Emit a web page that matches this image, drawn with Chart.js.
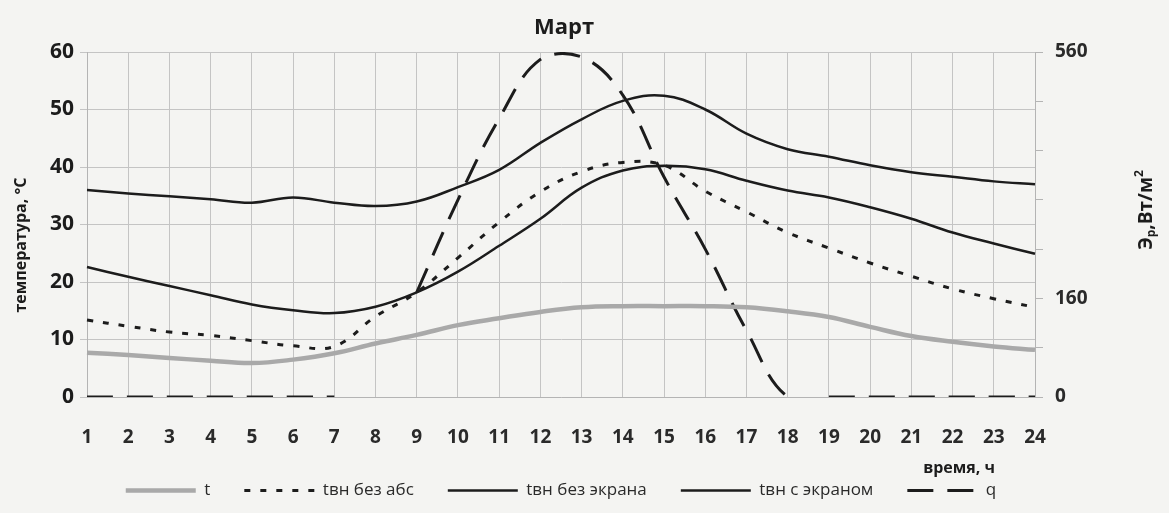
<!DOCTYPE html>
<html>
<head>
<meta charset="utf-8">
<script src="https://cdn.jsdelivr.net/npm/chart.js@4.4.1/dist/chart.umd.min.js"></script>
<style>
    html, body { margin: 0; padding: 0; background: #f4f4f2; }
</style>
</head>
<body>
<canvas id="chart" width="1169" height="513"></canvas>
<script>
"use strict"

// hours of the day
const hours = ['1', '2', '3', '4', '5', '6', '7', '8', '9', '10', '11', '12',
               '13', '14', '15', '16', '17', '18', '19', '20', '21', '22', '23', '24'];

// temperatures, °C (left axis)
const tOutside  = [7.7, 7.3, 6.8, 6.3, 5.9, 6.5, 7.6, 9.3, 10.8, 12.5, 13.7, 14.8,
                   15.6, 15.8, 15.8, 15.8, 15.6, 14.9, 13.9, 12.2, 10.6, 9.6, 8.8, 8.2];
const tNoAbs    = [13.4, 12.3, 11.3, 10.7, 9.8, 8.9, 8.8, 14.0, 18.2, 24.2, 30.4, 35.7,
                   39.2, 40.8, 40.3, 35.8, 32.2, 28.6, 25.9, 23.3, 21.0, 18.8, 17.1, 15.6];
const tNoScreen = [36.0, 35.4, 34.9, 34.4, 33.8, 34.7, 33.8, 33.2, 34.0, 36.5, 39.5, 44.2,
                   48.3, 51.5, 52.4, 50.0, 45.8, 43.1, 41.8, 40.3, 39.1, 38.3, 37.5, 37.0];
const tScreen   = [22.6, 20.9, 19.3, 17.7, 16.1, 15.1, 14.6, 15.7, 18.2, 21.8, 26.3, 31.0,
                   36.4, 39.4, 40.2, 39.6, 37.6, 35.9, 34.7, 33.0, 31.0, 28.6, 26.7, 24.9];

// solar radiation, W/m² (right axis)
const qRadiation = [0, 0, 0, 0, 0, 0, 0, null, 170, 320, 452, 548,
                    552, 490, 357, 240, 108, 0, 0, 0, 0, 0, 0, 0];

const seriesNames = ['t', 'tвн без абс', 'tвн без экрана', 'tвн с экраном', 'q'];
const rightTickLabels = [0, 160, 560];

const chartTitle = 'Март';
const leftTitle = 'температура, °С';
const bottomTitle = 'время, ч';


const app = {
    canvasContext: document.getElementById('chart').getContext('2d')
};


window.onload = () =>
{
    drawChart();
}


const extraText =
{
    id: 'extraText',
    afterDraw(chart)
    {
        const ctx = chart.ctx;
        const area = chart.chartArea;
        ctx.save();
        ctx.fillStyle = '#1c1c1c';
        ctx.textBaseline = 'middle';

        // title
        ctx.font = 'bold 22px "Open Sans"';
        ctx.textAlign = 'center';
        ctx.fillText(chartTitle, (area.left + area.right) / 2 + 3, area.top - 24);

        // x axis title, right side
        ctx.font = 'bold 16px "Open Sans"';
        ctx.textAlign = 'right';
        ctx.fillText(bottomTitle, area.right - 40, area.bottom + 71);

        // left axis title
        ctx.save();
        ctx.translate(21, 245);
        ctx.rotate(-Math.PI / 2);
        ctx.font = 'bold 16px "Open Sans"';
        ctx.textAlign = 'center';
        ctx.fillText(leftTitle, 0, 0);
        ctx.restore();

        // right axis title Эр,Вт/м²
        ctx.save();
        ctx.translate(1147, 210);
        ctx.rotate(-Math.PI / 2);
        ctx.textAlign = 'left';
        const big = 'bold 19px "Open Sans"';
        const small = 'bold 12px "Open Sans"';
        const parts = [['Э', big, 0], ['р', small, 5], [',Вт/м', big, 0], ['2', small, -7]];
        let width = 0;
        parts.forEach(p => { ctx.font = p[1]; width += ctx.measureText(p[0]).width; });
        let x = -width / 2;
        parts.forEach(p =>
        {
            ctx.font = p[1];
            ctx.fillText(p[0], x, p[2]);
            x += ctx.measureText(p[0]).width;
        });
        ctx.restore();

        ctx.restore();
    }
};


function legendLabels(chart)
{
    return chart.data.datasets.map((ds, i) => ({
        text: ds.label,
        datasetIndex: i,
        fillStyle: ds.borderColor,
        strokeStyle: ds.borderColor,
        lineWidth: ds.borderWidth,
        lineDash: ds.borderDash || [],
        pointStyle: 'line',
        fontColor: '#2a2a2a',
        hidden: false
    }));
}


function drawChart()
{
    const data =
    {
        labels: hours,
        datasets: [{
                    label: seriesNames[0],
                    data: tOutside,
                    borderColor: '#a9a9a9',
                    backgroundColor: '#a9a9a9',
                    borderWidth: 4.5,
                    yAxisID: 'y',
                   },
                   {
                    label: seriesNames[1],
                    data: tNoAbs,
                    borderColor: '#1c1c1c',
                    backgroundColor: '#1c1c1c',
                    borderWidth: 3,
                    borderDash: [6, 10],
                    yAxisID: 'y',
                   },
                   {
                    label: seriesNames[2],
                    data: tNoScreen,
                    borderColor: '#1c1c1c',
                    backgroundColor: '#1c1c1c',
                    borderWidth: 2.5,
                    yAxisID: 'y',
                   },
                   {
                    label: seriesNames[3],
                    data: tScreen,
                    borderColor: '#1c1c1c',
                    backgroundColor: '#1c1c1c',
                    borderWidth: 2.5,
                    yAxisID: 'y',
                   },
                   {
                    label: seriesNames[4],
                    data: qRadiation,
                    borderColor: '#1c1c1c',
                    backgroundColor: '#1c1c1c',
                    borderWidth: 3,
                    borderDash: [26, 14],
                    yAxisID: 'y1',
                    segment:
                    {
                        // no line between the end of the curve and the night zeros
                        borderColor: ctx => ctx.p0DataIndex === 17 ? 'rgba(0,0,0,0)' : undefined
                    }
                   },]
    };

    const config =
    {
        type: 'line',
        data: data,
        plugins: [extraText],
        options:
        {
            responsive: false,
            animation: false,
            layout: { padding: { top: 52, bottom: 4, left: 0, right: 0 } },
            elements:
            {
                point: { radius: 0 },
                line: { tension: 0.4 }
            },
            scales:
            {
                x:
                {
                    offset: false,
                    grid: { color: '#c4c4c4', drawTicks: false },
                    border: { color: '#b4b4b4' },
                    ticks:
                    {
                        padding: 29,
                        color: '#2a2a2a',
                        maxRotation: 0,
                        autoSkip: false,
                        font: { size: 19, weight: 'bold' }
                    },
                    afterFit: scale => { scale.height = 51; }
                },
                y:
                {
                    position: 'left',
                    min: 0,
                    max: 60,
                    grid: { color: '#c4c4c4', tickLength: 7 },
                    border: { color: '#b4b4b4' },
                    ticks:
                    {
                        stepSize: 10,
                        padding: 6,
                        color: '#1c1c1c',
                        font: { size: 21, weight: 'bold' }
                    },
                    afterFit: scale => { scale.width = 87; }
                },
                y1:
                {
                    position: 'right',
                    min: 0,
                    max: 560,
                    grid: { drawOnChartArea: false, color: '#b4b4b4', tickLength: 8 },
                    border: { color: '#b4b4b4' },
                    ticks:
                    {
                        stepSize: 80,
                        padding: 12,
                        color: '#2a2a2a',
                        font: { size: 19, weight: 'bold' },
                        callback: value => rightTickLabels.includes(value) ? value : ''
                    },
                    afterFit: scale => { scale.width = 134; }
                }
            },
            plugins:
            {
                title: { display: false },
                tooltip: { enabled: false },
                legend:
                {
                    position: 'bottom',
                    fullSize: false,
                    labels:
                    {
                        usePointStyle: true,
                        pointStyle: 'line',
                        pointStyleWidth: 70,
                        boxHeight: 17,
                        padding: 34,
                        color: '#2a2a2a',
                        font: { size: 17 },
                        generateLabels: legendLabels
                    }
                }
            }
        }
    };

    Chart.defaults.font.family = '"Open Sans", sans-serif';

    var myChart = new Chart(app.canvasContext, config);
}
</script>
</body>
</html>
